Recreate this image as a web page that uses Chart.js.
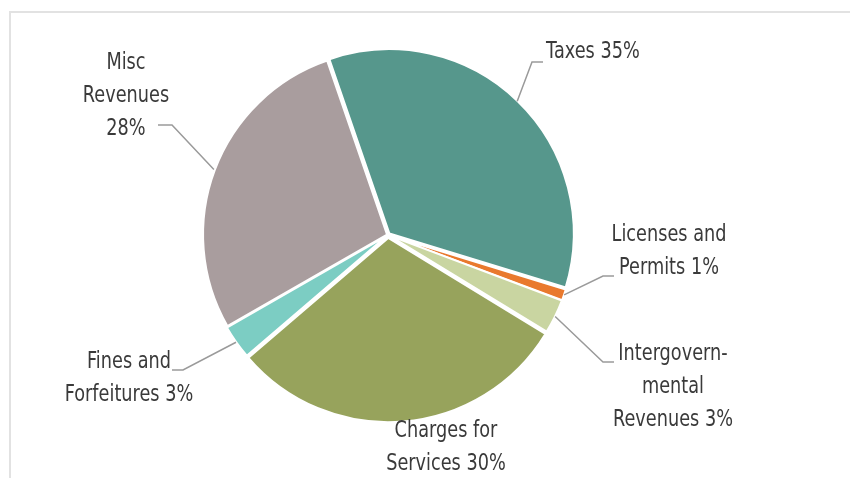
<!DOCTYPE html>
<html>
<head>
<meta charset="utf-8">
<script src="https://cdn.jsdelivr.net/npm/chart.js@4.4.1/dist/chart.umd.min.js"></script>
<style>
  html, body { margin: 0; padding: 0; background: #fff; }
  #wrap { position: relative; width: 850px; height: 478px; overflow: hidden; }
  #frame { position: absolute; left: 9px; top: 11px; width: 860px; height: 480px;
           border-top: 2px solid #e2e2e2; border-left: 2px solid #e2e2e2; }
  #revChart { position: absolute; left: 0; top: 0; }
</style>
</head>
<body>
<div id="wrap">
  <div id="frame"></div>
  <canvas id="revChart" width="850" height="478"></canvas>
</div>
<script>
// revenue sources, share of total (%)
var categories = ['Taxes', 'Licenses and Permits', 'Intergovernmental Revenues',
                  'Charges for Services', 'Fines and Forfeitures', 'Misc Revenues'];
var shares = [35, 1, 3, 30, 3, 28];
// label text, {p} gets the share
var labelText = ['Taxes {p}', 'Licenses and\nPermits {p}', 'Intergovern-\nmental\nRevenues {p}',
                 'Charges for\nServices {p}', 'Fines and\nForfeitures {p}', 'Misc\nRevenues\n{p}'];

var baseColors  = ['#56978c', '#e9792d', '#c9d5a1', '#97a35c', '#7ccdc3', '#a99d9e'];
var lightColors = ['#6aa99e', '#f08a40', '#d6e0b2', '#a7b16f', '#8fd9cf', '#bab0b0'];
var darkColors  = ['#3f7c72', '#d0661f', '#b5c289', '#7d8a45', '#64b5ab', '#958a8b'];

// where each label sits: leader elbow, leader end, text x, first line y, align
var labelLayout = [
    { elbow: [532, 62],  end: [543, 62],  x: 546, y: 52,  align: 'left' },
    { elbow: [603, 276], end: [614, 276], x: 669, y: 235, align: 'center' },
    { elbow: [603, 362], end: [614, 362], x: 673, y: 354, align: 'center' },
    { elbow: null,       end: null,       x: 446, y: 431, align: 'center' },
    { elbow: [183, 370], end: [172, 370], x: 129, y: 362, align: 'center' },
    { elbow: [172, 125], end: [158, 125], x: 126, y: 63,  align: 'center' }
];
var lineHeight = 33;
var textSqueeze = 0.77;   // narrow the label face

function sliceFill(context) {
    var i = context.dataIndex;
    var chart = context.chart;
    var arc = chart.getDatasetMeta(0).data[i];
    if (!arc || !arc.outerRadius) return baseColors[i];
    var g = chart.ctx.createRadialGradient(arc.x, arc.y, 0, arc.x, arc.y, arc.outerRadius);
    g.addColorStop(0, lightColors[i]);
    g.addColorStop(0.8, baseColors[i]);
    g.addColorStop(0.95, baseColors[i]);
    g.addColorStop(1, darkColors[i]);
    return g;
}

var calloutPlugin = {
    id: 'callouts',
    afterDatasetsDraw: function(chart) {
        var ctx = chart.ctx;
        var arcs = chart.getDatasetMeta(0).data;
        ctx.save();
        ctx.font = '23px "DejaVu Sans", sans-serif';
        ctx.fillStyle = '#3a3a3a';
        ctx.textBaseline = 'middle';
        arcs.forEach(function(arc, i) {
            var lay = labelLayout[i];
            if (lay.elbow) {
                var mid = (arc.startAngle + arc.endAngle) / 2;
                var r = arc.outerRadius + 2;
                ctx.beginPath();
                ctx.strokeStyle = '#9a9a9a';
                ctx.lineWidth = 1.5;
                ctx.moveTo(arc.x + Math.cos(mid) * r, arc.y + Math.sin(mid) * r);
                ctx.lineTo(lay.elbow[0], lay.elbow[1]);
                ctx.lineTo(lay.end[0], lay.end[1]);
                ctx.stroke();
            }
            var lines = labelText[i].replace('{p}', shares[i] + '%').split('\n');
            ctx.textAlign = lay.align;
            lines.forEach(function(t, k) {
                ctx.save();
                ctx.translate(lay.x, lay.y + k * lineHeight);
                ctx.scale(textSqueeze, 1);
                ctx.fillText(t, 0, 0);
                ctx.restore();
            });
        });
        ctx.restore();
    }
};

new Chart(document.getElementById('revChart').getContext('2d'), {
    type: 'pie',
    data: {
        labels: categories,
        datasets: [{
            data: shares,
            backgroundColor: sliceFill,
            borderColor: '#ffffff',
            borderWidth: 2,
            offset: [8, 4, 4, 12, 4, 4]
        }]
    },
    options: {
        responsive: false,
        animation: false,
        rotation: -19,
        radius: 184,
        layout: { padding: { left: 0, right: 74, top: 0, bottom: 8 } },
        plugins: {
            legend: { display: false },
            tooltip: { enabled: false }
        }
    },
    plugins: [calloutPlugin]
});
</script>
</body>
</html>
